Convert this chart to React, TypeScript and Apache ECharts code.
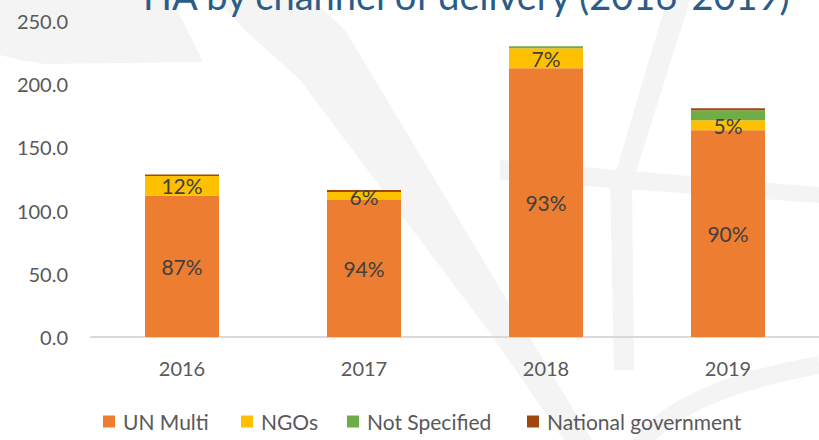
import React, { useEffect, useRef } from "react";
import * as echarts from "echarts";

const categories = ["2016", "2017", "2018", "2019"];
const unMulti = [111.7, 108.4, 212.6, 163.6];
const ngos = [15.6, 6.3, 15.8, 7.9];
const notSpecified = [0, 0, 1.6, 7.9];
const nationalGov = [1.3, 1.6, 0, 1.6];
const unLabels = ["87%", "94%", "93%", "90%"];
const ngoLabels = ["12%", "6%", "7%", "5%"];
const seriesNames = ["UN Multi", "NGOs", "Not Specified", "National government"];
const colors = ["#ED7D31", "#FFC000", "#70AD47", "#9E480E"];
const titleText = "HA by channel of delivery (2016-2019)";

const FONT = "Lato, 'Open Sans', sans-serif";
const WM = "#f4f4f4";

export default function App() {
  const ref = useRef<HTMLDivElement>(null);
  useEffect(() => {
    if (!ref.current) return;
    const chart = echarts.init(ref.current, null, { renderer: "svg" });
    const labelStyle = { color: "#404040", fontSize: 21, fontFamily: FONT };
    const legendLefts = [103, 241, 347, 527];
    const option: any = {
      animation: false,
      backgroundColor: "#ffffff",
      textStyle: { fontFamily: FONT },
      graphic: [
        { type: "polygon", z: -10, shape: { points: [[0, 0], [172, 0], [203, 62], [45, 64], [20, 60], [0, 55]] }, style: { fill: WM } },
        { type: "polygon", z: -10, shape: { points: [[217, 0], [313, 0], [345, 30], [527, 333], [592, 440], [564, 440], [490, 333], [300, 80], [245, 30]] }, style: { fill: WM } },
        { type: "polygon", z: -10, shape: { points: [[667, 0], [690, 0], [632, 185], [612, 185]] }, style: { fill: WM } },
        { type: "polygon", z: -10, shape: { points: [[610, 180], [632, 180], [634, 370], [614, 370]] }, style: { fill: WM } },
        { type: "polygon", z: -10, shape: { points: [[500, 160], [819, 187], [819, 203], [500, 180]] }, style: { fill: WM } },
        { type: "bezierCurve", z: -10, shape: { x1: 640, y1: 445, cpx1: 680, cpy1: 390, x2: 819, y2: 365 }, style: { stroke: WM, lineWidth: 18, fill: "none" } },
        {
          type: "text",
          x: 143,
          y: -5,
          style: {
            text: titleText,
            fontSize: 38,
            fontFamily: FONT,
            fill: "#2A5C8A",
            textVerticalAlign: "middle",
            verticalAlign: "middle",
          },
        },
      ],
      grid: { left: 91, right: 0, top: 21, bottom: 103 },
      legend: seriesNames.map((n, i) => ({
        data: [n],
        left: legendLefts[i],
        top: 411,
        padding: 0,
        icon: "rect",
        itemWidth: 12,
        itemHeight: 12,
        selectedMode: false,
        textStyle: { color: "#595959", fontSize: 21, fontFamily: FONT, padding: [0, 0, 0, 3] },
      })),
      xAxis: {
        type: "category",
        data: categories,
        axisLine: { lineStyle: { color: "#D9D9D9", width: 2 } },
        axisTick: { show: false },
        axisLabel: { color: "#595959", fontSize: 20, fontFamily: FONT, margin: 21 },
      },
      yAxis: {
        type: "value",
        min: 0,
        max: 250,
        interval: 50,
        axisLine: { show: false },
        axisTick: { show: false },
        splitLine: { show: false },
        axisLabel: {
          color: "#595959",
          fontSize: 20,
          fontFamily: FONT,
          margin: 23,
          formatter: (v: number) => v.toFixed(1),
        },
      },
      series: [
        {
          name: seriesNames[0],
          type: "bar",
          stack: "t",
          barWidth: 74,
          data: unMulti,
          itemStyle: { color: colors[0] },
          label: { show: true, position: "inside", ...labelStyle, formatter: (p: any) => unLabels[p.dataIndex] },
        },
        {
          name: seriesNames[1],
          type: "bar",
          stack: "t",
          data: ngos,
          itemStyle: { color: colors[1] },
          label: { show: true, position: "inside", ...labelStyle, formatter: (p: any) => ngoLabels[p.dataIndex] },
        },
        { name: seriesNames[2], type: "bar", stack: "t", data: notSpecified, itemStyle: { color: colors[2] } },
        { name: seriesNames[3], type: "bar", stack: "t", data: nationalGov, itemStyle: { color: colors[3] } },
      ],
    };
    chart.setOption(option);
    return () => chart.dispose();
  }, []);
  return <div ref={ref} style={{ width: 819, height: 440, position: "absolute", left: 0, top: 0 }} />;
}
